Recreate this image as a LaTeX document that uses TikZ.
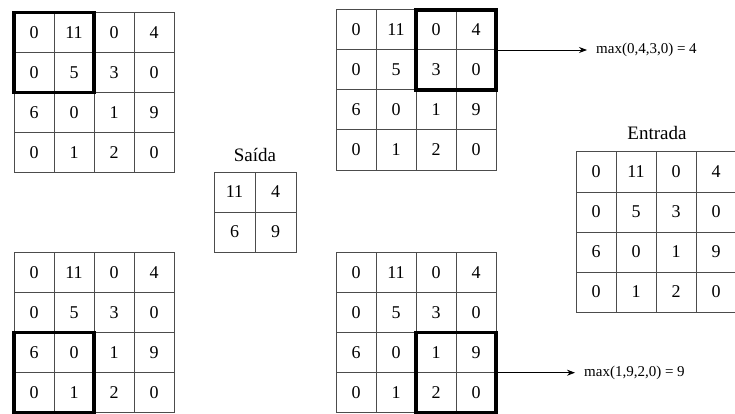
\documentclass[tikz,border=0pt]{standalone}
\usepackage{fontspec}
\setmainfont{Liberation Serif}
\usetikzlibrary{fit,arrows.meta}
\tikzset{
  cell/.style={draw=black!70, line width=1pt, minimum width=40pt, minimum height=40pt,
    inner sep=0pt, outer sep=0pt, anchor=north west, font=\fontsize{18}{18}\selectfont},
  smallcell/.style={cell, minimum width=41pt},
  poolbox/.style={draw=black, line width=3.5pt, inner sep=0pt, outer sep=0pt},
  gridtitle/.style={font=\fontsize{19}{19}\selectfont, inner sep=0pt},
  result/.style={font=\fontsize{15}{15}\selectfont, anchor=west, inner ysep=0pt, inner xsep=9pt},
  arr/.style={-{Stealth[length=8pt,width=6pt]}, line width=0.8pt, draw=black},
}
\newcommand{\mygrid}[3]{%
  \foreach \row [count=\r from 0] in {{0,11,0,4},{0,5,3,0},{6,0,1,9},{0,1,2,0}} {
    \foreach \v [count=\c from 0] in \row {
      \node[cell] (#1-\r-\c) at ({#2+40*\c},{#3+40*\r}) {\v};
    }
  }%
}
\begin{document}
\begin{tikzpicture}[x=1pt,y=-1pt]
  \useasboundingbox (0,0) rectangle (735,414);
  % top-left
  \mygrid{tl}{14}{12.7}
  \node[poolbox, fit=(tl-0-0)(tl-1-1)] (tlbox) {};
  % top-middle
  \mygrid{tm}{336}{10}
  \node[poolbox, fit=(tm-0-2)(tm-1-3)] (tmbox) {};
  \node[result] (rtop) at ([xshift=91pt]tmbox.east) {max(0,4,3,0) = 4};
  \draw[arr] (tmbox.east) -- (rtop.west);
  % bottom-left
  \mygrid{bl}{14}{252.7}
  \node[poolbox, fit=(bl-2-0)(bl-3-1)] (blbox) {};
  % bottom-middle
  \mygrid{bm}{336}{252.7}
  \node[poolbox, fit=(bm-2-2)(bm-3-3)] (bmbox) {};
  \node[result] (rbot) at ([xshift=79pt]bmbox.east) {max(1,9,2,0) = 9};
  \draw[arr] (bmbox.east) -- (rbot.west);
  % input
  \mygrid{in}{576}{152}
  \node[gridtitle] (intitle) at (657,133) {Entrada};
  % output
  \node[smallcell] (out-0-0) at (214,172) {11};
  \node[smallcell] (out-0-1) at (255,172) {4};
  \node[smallcell] (out-1-0) at (214,212) {6};
  \node[smallcell] (out-1-1) at (255,212) {9};
  \node[gridtitle] (outtitle) at (255,155) {Saída};
\end{tikzpicture}
\end{document}
